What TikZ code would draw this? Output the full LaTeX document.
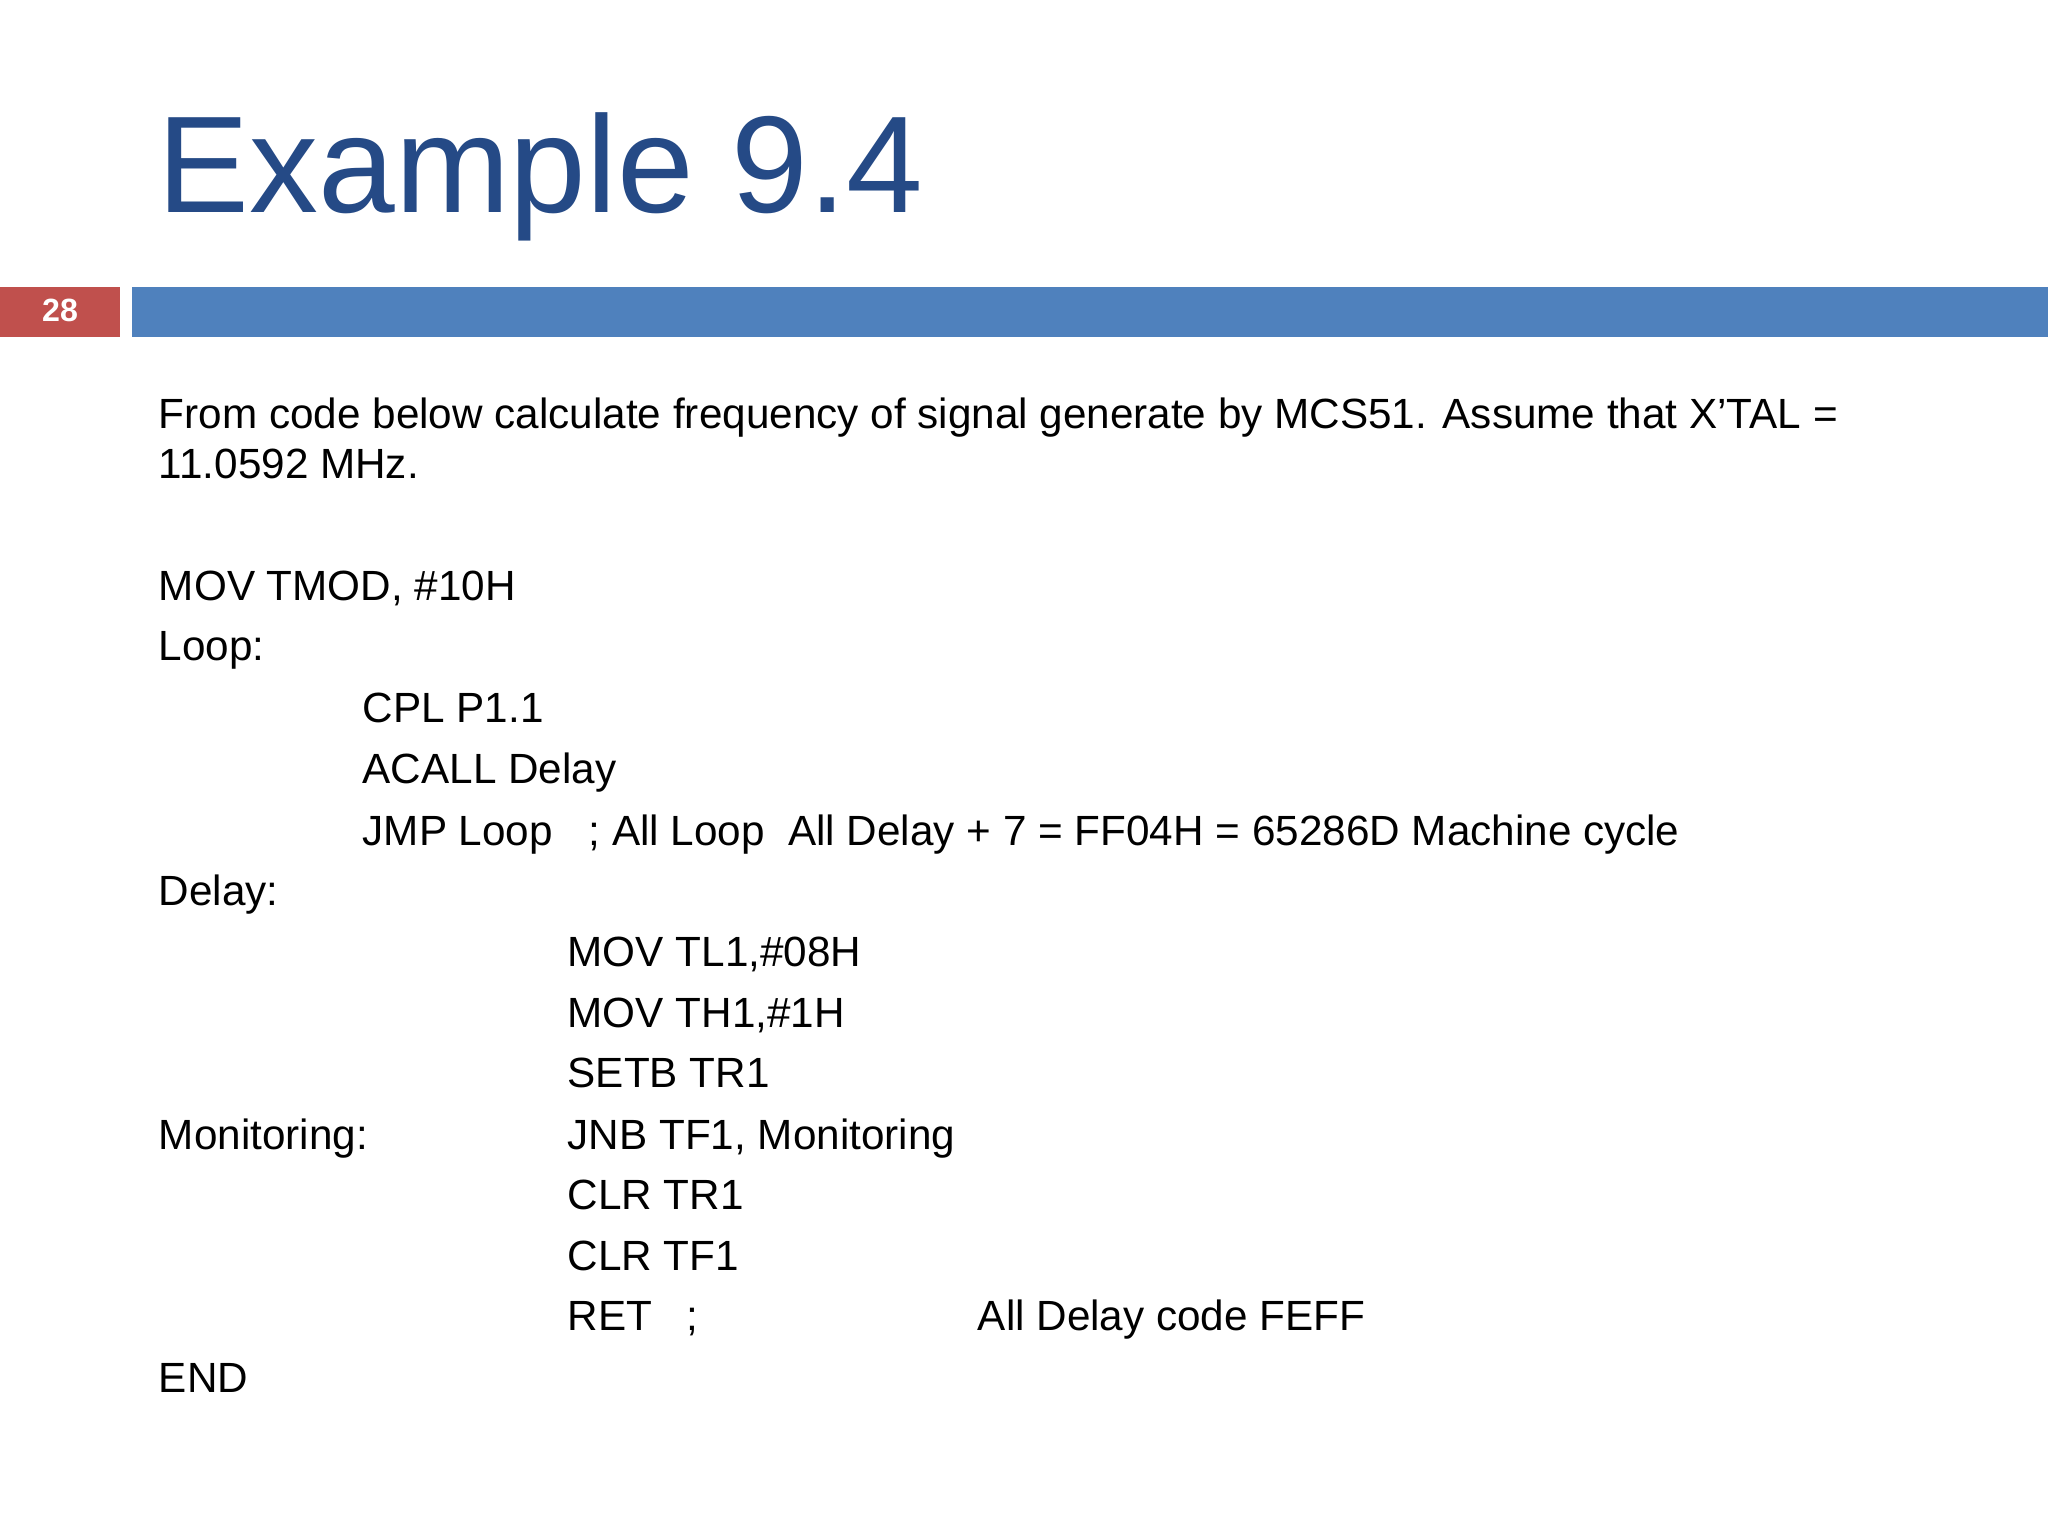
\documentclass[tikz,border=0pt]{standalone}
\usepackage{fontspec}
\setmainfont{Liberation Sans}
\definecolor{ttl}{HTML}{254A86}
\definecolor{bar}{HTML}{4F81BD}
\definecolor{red1}{HTML}{C0504D}
\begin{document}
\begin{tikzpicture}[x=0.01cm,y=-0.01cm,
  t/.style={anchor=base west,inner sep=0pt,font=\fontsize{9.2pt}{11pt}\selectfont}]
\useasboundingbox[fill=white] (0,0) rectangle (1568,1176);
\node[anchor=base west,inner sep=0pt,text=ttl,font=\fontsize{30pt}{36pt}\selectfont] (title) at (120,163) {Example 9.4};
\fill[red1] (0,220) rectangle (92,258);
\fill[bar] (101,220) rectangle (1568,258);
\node[text=white,font=\bfseries\fontsize{7pt}{8pt}\selectfont] (num) at (46,238) {28};
\node[t] (l1) at (121,328) {From code below calculate frequency of signal generate by MCS51. Assume that X’TAL =};
\node[t] (l2) at (121,366) {11.0592 MHz.};
\node[t] (a) at (121,460) {MOV TMOD, \#10H};
\node[t] (b) at (121,506) {Loop:};
\node[t] (c) at (277,553) {CPL P1.1};
\node[t] (d) at (277,600) {ACALL Delay};
\node[t] (e) at (277,647) {JMP Loop};
\node[t] (e2) at (450,647) {; All Loop\ \ All Delay + 7 = FF04H = 65286D Machine cycle};
\node[t] (f) at (121,693) {Delay:};
\node[t] (g) at (434,740) {MOV TL1,\#08H};
\node[t] (h) at (434,787) {MOV TH1,\#1H};
\node[t] (i) at (434,833) {SETB TR1};
\node[t] (j0) at (121,880) {Monitoring:};
\node[t] (j) at (434,880) {JNB TF1, Monitoring};
\node[t] (k) at (434,926) {CLR TR1};
\node[t] (l) at (434,973) {CLR TF1};
\node[t] (m) at (434,1019) {RET};
\node[t] (m2) at (525,1019) {;};
\node[t] (m3) at (748,1019) {All Delay code FEFF};
\node[t] (n) at (121,1066) {END};
\end{tikzpicture}
\end{document}
